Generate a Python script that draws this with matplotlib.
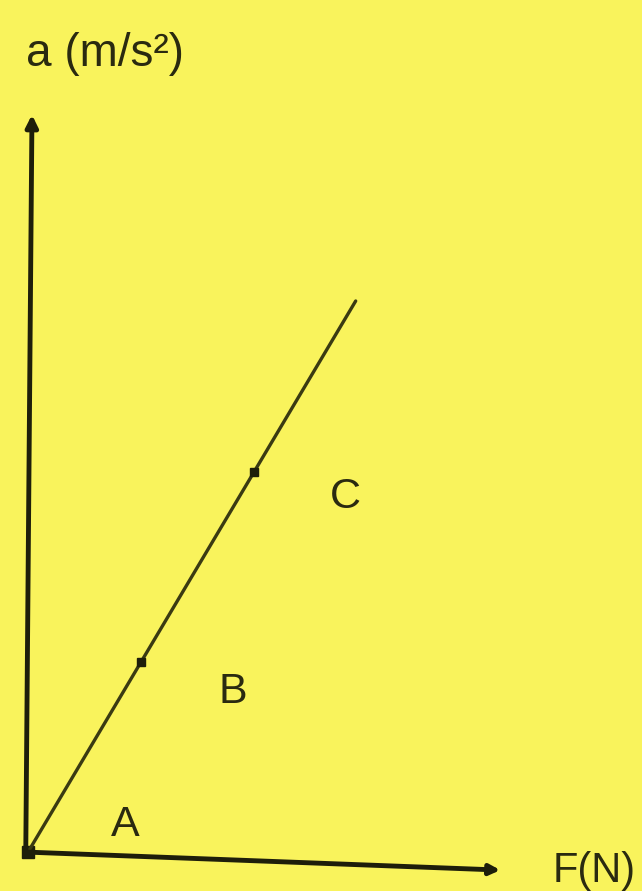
import matplotlib
matplotlib.use("Agg")
import matplotlib.pyplot as plt

# Force F (N) against acceleration a (m/s^2): straight line through the origin
force = [0.0, 1.0, 2.0, 2.9]
accel = [0.0, 1.0, 2.0, 2.9]
marked_idx = [1, 2]          # points drawn as dots on the line

# Region labels and where they sit (F, a)
region_labels = ["A", "B", "C"]
region_F = [0.86, 1.81, 2.81]
region_a = [0.14, 0.84, 1.87]

# Axis extents
y_axis_top = 3.88
x_axis_end = (4.18, -0.095)

bg = "#f9f35c"
ink = "#1e1e0a"

fig = plt.figure(figsize=(6.42, 8.91), dpi=100, facecolor=bg)
ax = fig.add_axes([0, 0, 1, 1])
ax.set_facecolor(bg)
ax.set_xlim(-0.248, 5.434)
ax.set_ylim(-0.205, 4.484)
ax.axis("off")

# axes drawn as arrows
ax.annotate("", xy=(0.035, y_axis_top), xytext=(-0.02, 0.0),
            arrowprops=dict(arrowstyle="-|>,head_width=0.35,head_length=0.7",
                            lw=3.5, color=ink, shrinkA=0, shrinkB=0))
ax.annotate("", xy=x_axis_end, xytext=(-0.02, 0.0),
            arrowprops=dict(arrowstyle="-|>,head_width=0.3,head_length=0.6",
                            lw=3.5, color=ink, shrinkA=0, shrinkB=0))
ax.plot([0.0], [0.0], marker="s", ms=9, color=ink)

# the line and its marked points
ax.plot(force, accel, color="#3a3a12", lw=2.4, solid_capstyle="round")
ax.plot([force[i] for i in marked_idx], [accel[i] for i in marked_idx],
        "s", ms=5.5, color=ink)

for lab, fx, ay in zip(region_labels, region_F, region_a):
    ax.text(fx, ay, lab, fontsize=31, family="Liberation Sans",
            color="#2a2a10", ha="center", va="center")

ax.text(-0.02, 4.2, "a (m/s²)", fontsize=33, family="Liberation Sans",
        color="#2a2a10", ha="left", va="center")
ax.text(4.645, -0.1, "F(N)", fontsize=30, family="Liberation Sans",
        color="#2a2a10", ha="left", va="center")

fig.savefig("out.png", dpi=100, facecolor=bg)
